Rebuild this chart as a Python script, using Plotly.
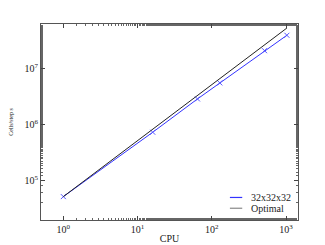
import plotly.graph_objects as go

cpus = [1, 16, 64, 128, 512, 1024]
cells_per_s = [5.1e4, 7.2e5, 2.83e6, 5.47e6, 2.06e7, 3.88e7]
optimal_x = [1, 1024]
optimal_y = [5.1e4, 5.1e4 * 1024]

x_tickvals = [1, 10, 100, 1000]
x_ticktext = ["10<sup>0</sup>", "10<sup>1</sup>", "10<sup>2</sup>", "10<sup>3</sup>"]
y_tickvals = [1e5, 1e6, 1e7]
y_ticktext = ["10<sup>5</sup>", "10<sup>6</sup>", "10<sup>7</sup>"]
series_names = ["32x32x32", "Optimal"]

font = "Liberation Serif"
blue = "#3333ff"
dark = "#222222"

fig = go.Figure()
fig.add_trace(go.Scatter(x=cpus, y=cells_per_s, mode="lines+markers", name=series_names[0],
                         line=dict(color=blue, width=1),
                         marker=dict(symbol="x-thin", size=5, line=dict(color="#5555ff", width=1))))
fig.add_trace(go.Scatter(x=optimal_x, y=optimal_y, mode="lines", name=series_names[1],
                         line=dict(color=dark, width=1)))

axis_common = dict(type="log", showgrid=False, zeroline=False, mirror="allticks",
                   ticks="inside", ticklen=4, tickwidth=0.8, tickcolor="#444",
                   showline=True, linecolor="#555", linewidth=1, automargin=False,
                   minor=dict(ticks="inside", ticklen=2, tickcolor="#666", showgrid=False),
                   tickfont=dict(family=font, size=10, color="#222"))

fig.update_xaxes(**axis_common, range=[-0.301, 3.16], tickvals=x_tickvals, ticktext=x_ticktext,
                 title=dict(text="CPU", font=dict(family=font, size=10, color="#222"), standoff=0))
fig.update_yaxes(**axis_common, range=[4.29, 7.79], tickvals=y_tickvals, ticktext=y_ticktext,
                 title=dict(text="Cells/step s", font=dict(family=font, size=6, color="#222"), standoff=11))

# manual legend (compact, matplotlib-like)
legend_colors = [blue, "#888888"]
legend_y = [0.115, 0.06]
for name, col, yy in zip(series_names, legend_colors, legend_y):
    fig.add_shape(type="line", xref="paper", yref="paper", x0=0.735, x1=0.783, y0=yy, y1=yy,
                  line=dict(color=col, width=1.2))
    fig.add_annotation(text=name, xref="paper", yref="paper", x=0.81, y=yy, xanchor="left",
                       yanchor="middle", showarrow=False,
                       font=dict(family=font, size=10, color="#222"))

fig.update_layout(width=317, height=237, margin=dict(l=33, r=27, t=16, b=25),
                  paper_bgcolor="white", plot_bgcolor="white", showlegend=False)

fig.write_html("out.html")
